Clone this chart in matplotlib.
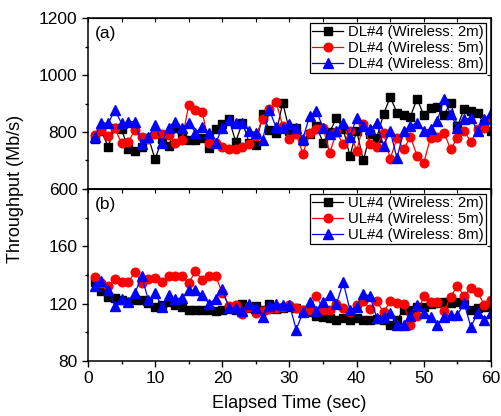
import numpy as np
import matplotlib.pyplot as plt
from matplotlib.ticker import MultipleLocator

plt.rcParams['font.family'] = ['Liberation Sans', 'DejaVu Sans']

t = np.arange(1, 61)

# downlink throughput (Mb/s)
dl_2m = [774, 803, 749, 815, 809, 741, 734, 749, 780, 704,
         774, 751, 815, 788, 771, 771, 780, 745, 812, 827,
         844, 766, 833, 763, 753, 862, 807, 795, 903, 803,
         815, 768, 792, 821, 763, 800, 850, 810, 716, 805,
         700, 792, 780, 862, 923, 868, 858, 854, 917, 858,
         885, 889, 860, 903, 821, 880, 874, 866, 827, 803]
dl_5m = [788, 807, 786, 813, 760, 766, 807, 784, 777, 792,
         792, 788, 763, 771, 895, 877, 870, 763, 763, 749,
         739, 741, 749, 757, 786, 844, 880, 905, 821, 774,
         792, 724, 795, 809, 815, 727, 800, 757, 803, 733,
         827, 757, 749, 798, 706, 778, 739, 784, 716, 692,
         780, 784, 798, 739, 780, 805, 765, 809, 815, 847]
dl_8m = [784, 833, 830, 877, 830, 836, 836, 759, 784, 823,
         763, 815, 836, 813, 833, 798, 819, 798, 760, 815,
         841, 830, 833, 803, 798, 772, 877, 817, 815, 827,
         815, 777, 856, 874, 815, 792, 805, 833, 784, 850,
         821, 809, 833, 751, 803, 708, 803, 821, 833, 803,
         812, 839, 915, 862, 815, 844, 850, 803, 844, 868]

# uplink throughput (Mb/s)
ul_2m = [135, 128.6, 124.7, 124, 122.8, 121, 122.8, 122.3, 120.5, 118,
         119.3, 121, 119.3, 118, 115.3, 115.8, 115.3, 115.8, 114.7, 115.3,
         117, 115.8, 120, 117, 118.6, 115.3, 120, 116.3, 117, 118,
         117, 115.3, 114, 111.6, 110.7, 110, 108.8, 110, 108.8, 110,
         108.4, 108.4, 109.3, 108.8, 105.3, 108.8, 115.8, 115.8, 118, 118,
         120, 120.5, 121, 120.5, 121, 120, 115.8, 117, 118, 118.6]
ul_5m = [138.6, 134.4, 132, 137, 135, 135, 142, 134.4, 137.2, 138,
         135, 139.5, 139.5, 139, 134.4, 142.6, 136.7, 139.5, 139.5, 127.4,
         118.6, 119.3, 113, 118, 113.5, 114.7, 116, 117, 118, 119,
         117, 115.8, 115.8, 125.6, 115.8, 115.8, 120, 117, 114, 119,
         121.6, 116.3, 121.6, 114, 121.6, 120.5, 120, 105.3, 111.6, 125.6,
         121, 121, 114.7, 124.7, 132.6, 125, 131, 128, 119.3, 122.8]
ul_8m = [132, 135.6, 129.3, 118.6, 123.3, 121, 127.4, 139, 122.3, 127.4,
         118, 126.3, 123.3, 124, 129.3, 129.3, 126.3, 120, 123.3, 130.2,
         117, 117, 114.7, 120, 117, 110.7, 118.6, 120, 119.3, 119.3,
         101.9, 114, 121, 114.7, 121, 126.3, 120, 134.9, 115.8, 117.7,
         127, 125, 110, 110.7, 113.5, 105.3, 105.3, 111.6, 119.3, 113.5,
         110.7, 105.3, 110.7, 112, 112, 120.5, 103.7, 113.5, 108.8, 113.5]

dl_labels = ['DL#4 (Wireless: 2m)', 'DL#4 (Wireless: 5m)', 'DL#4 (Wireless: 8m)']
ul_labels = ['UL#4 (Wireless: 2m)', 'UL#4 (Wireless: 5m)', 'UL#4 (Wireless: 8m)']

colors = ['black', 'red', 'blue']
markers = ['s', 'o', '^']
msizes = [5.2, 6.2, 6.8]

fig = plt.figure(figsize=(5.01, 4.16), dpi=100)
ax1 = fig.add_axes([0.1756, 0.5457, 0.8044, 0.4110])
ax2 = fig.add_axes([0.1756, 0.1322, 0.8044, 0.4135])


def style_axis(ax):
    ax.set_xlim(0, 60)
    ax.xaxis.set_major_locator(MultipleLocator(10))
    ax.xaxis.set_minor_locator(MultipleLocator(5))
    ax.tick_params(which='both', direction='out', top=False, right=False,
                   labelsize=12.5, width=1)
    ax.tick_params(which='major', length=4)
    ax.tick_params(which='minor', length=2.5)
    for s in ax.spines.values():
        s.set_linewidth(1.1)
    sec = ax.secondary_xaxis('top')
    sec.xaxis.set_major_locator(MultipleLocator(5))
    sec.tick_params(direction='in', length=3, labeltop=False)
    sec2 = ax.secondary_yaxis('right')
    sec2.yaxis.set_major_locator(ax.yaxis.get_major_locator())
    sec2.tick_params(direction='in', length=3, labelright=False)


def add_legend(ax):
    leg = ax.legend(loc='upper right', fontsize=10.7, frameon=True, fancybox=False,
                    edgecolor='black', borderpad=0.15, labelspacing=0.12,
                    handlelength=2.1, handletextpad=0.3, borderaxespad=0.35,
                    framealpha=1)
    leg.get_frame().set_linewidth(0.9)


for data, lab, c, m, ms in zip([dl_2m, dl_5m, dl_8m], dl_labels, colors, markers, msizes):
    ax1.plot(t, data, color=c, marker=m, markersize=ms, linewidth=0.9, label=lab)
ax1.set_ylim(600, 1200)
ax1.yaxis.set_major_locator(MultipleLocator(200))
ax1.yaxis.set_minor_locator(MultipleLocator(100))
style_axis(ax1)
ax1.tick_params(labelbottom=False)
ax1.text(0.018, 0.955, '(a)', transform=ax1.transAxes, fontsize=12.5, va='top')
add_legend(ax1)

for data, lab, c, m, ms in zip([ul_2m, ul_5m, ul_8m], ul_labels, colors, markers, msizes):
    ax2.plot(t, data, color=c, marker=m, markersize=ms, linewidth=0.9, label=lab)
ax2.set_ylim(80, 200)
ax2.set_yticks([80, 120, 160])
ax2.yaxis.set_minor_locator(MultipleLocator(20))
style_axis(ax2)
ax2.text(0.018, 0.955, '(b)', transform=ax2.transAxes, fontsize=12.5, va='top')
add_legend(ax2)
ax2.set_xlabel('Elapsed Time (sec)', fontsize=13, labelpad=6)

fig.text(0.03, 0.545, 'Throughput (Mb/s)', rotation=90, fontsize=13,
         ha='center', va='center')

fig.savefig('out.png', dpi=100)
